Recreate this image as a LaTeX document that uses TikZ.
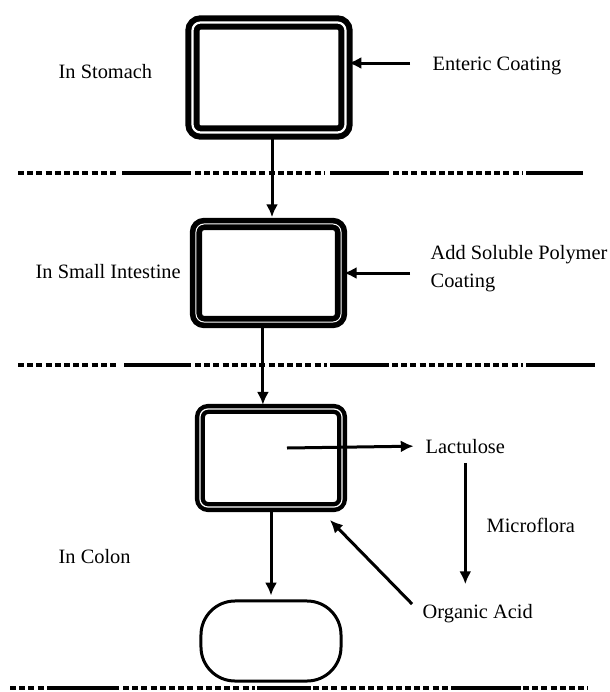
\documentclass[tikz,border=0pt]{standalone}
\usepackage{fontspec}
\setmainfont{Liberation Serif}
\usetikzlibrary{arrows.meta,positioning,calc}

\begin{document}
\begin{tikzpicture}[
  x=0.025cm, y=-0.025cm,
  font=\fontsize{14.5}{20}\selectfont,
  lbl/.style={inner sep=1pt},
  capsule/.style={draw, double, rounded corners=0.2cm, inner sep=0pt},
  stomachbox/.style={capsule, line width=1.5mm, double distance=0.55mm,
                     minimum width=3.825cm, minimum height=2.75cm},
  intestinebox/.style={capsule, line width=1.4mm, double distance=0.25mm,
                       minimum width=3.625cm, minimum height=2.45cm},
  colonbox/.style={capsule, line width=1.1mm, double distance=0.3mm,
                   minimum width=3.55cm, minimum height=2.45cm},
  blob/.style={draw, line width=0.75mm, rounded corners=0.85cm,
               minimum width=3.5cm, minimum height=2.0cm},
  arr/.style={-{Latex[length=3.2mm, width=3mm]}, line width=0.75mm},
  dsh/.style={line width=1mm, dash pattern=on 1.5mm off 0.8mm},
  sld/.style={line width=1mm},
]
\useasboundingbox (0,0) rectangle (610,692);

% capsule at each stage
\node[stomachbox] (stomach) at (269,77.5) {};
\node[intestinebox] (intestine) at (268.5,273) {};
\node[colonbox] (colon) at (271,458) {};
\node[blob] (released) at (271,641) {};

% stage names
\node[lbl, anchor=base west] (instomach) at (57,78) {In Stomach};
\node[lbl, anchor=base west] (insmall) at (34,278) {In Small Intestine};
\node[lbl, anchor=base west] (incolon) at (57,563) {In Colon};

% coatings and colon products
\node[lbl, anchor=base west] (enteric) at (431,70) {Enteric Coating};
\node[lbl, anchor=north west, align=left] (polymer) at (429,244)
  {Add Soluble Polymer\\Coating};
\node[lbl, anchor=base west] (lactulose) at (424,453) {Lactulose};
\node[lbl, anchor=base west] (microflora) at (485,532) {Microflora};
\node[lbl, anchor=base west] (acid) at (421,618) {Organic Acid};

\coordinate (entstart) at (410,63);
\coordinate (polystart) at (410,273);
\coordinate (lacstart) at (287,448);
\coordinate (acidtip) at (330,520);

\draw[arr] (entstart) -- (entstart -| stomach.east);
\draw[arr] (polystart) -- (polystart -| intestine.east);
\draw[arr, shorten >=1mm] ([xshift=0.075cm]stomach.south)
  -- ([xshift=0.075cm]stomach.south |- intestine.north);
\draw[arr, shorten >=0.5mm] ([xshift=-0.14cm]intestine.south)
  -- ([xshift=-0.14cm]intestine.south |- colon.north);
\draw[arr, shorten >=2.6mm] (lacstart) -- (lactulose.west);
\draw[arr, shorten <=2mm, shorten >=4.5mm] (lactulose.south)
  -- (lactulose.south |- acid.north);
\draw[arr, shorten <=3.2mm] (acid.west) -- (acidtip);
\draw[arr, shorten >=1mm] (colon.south) -- (released.north);

% separators between stages
\foreach \y/\a/\b/\s in {173/18/119/dsh, 173/122/191/sld, 173/195/325/dsh,
    173/330/389/sld, 173/393/523/dsh, 173/526/583/sld,
    365/18/119/dsh, 365/124/191/sld, 365/195/327/dsh,
    365/330/389/sld, 365/392/523/dsh, 365/526/595/sld,
    688/10/45/dsh, 688/47/119/sld, 688/123/255/dsh, 688/257/311/sld,
    688/313/449/dsh, 688/451/521/sld, 688/523/588/dsh}
  \draw[\s] (\a,\y) -- (\b,\y);
\end{tikzpicture}
\end{document}
